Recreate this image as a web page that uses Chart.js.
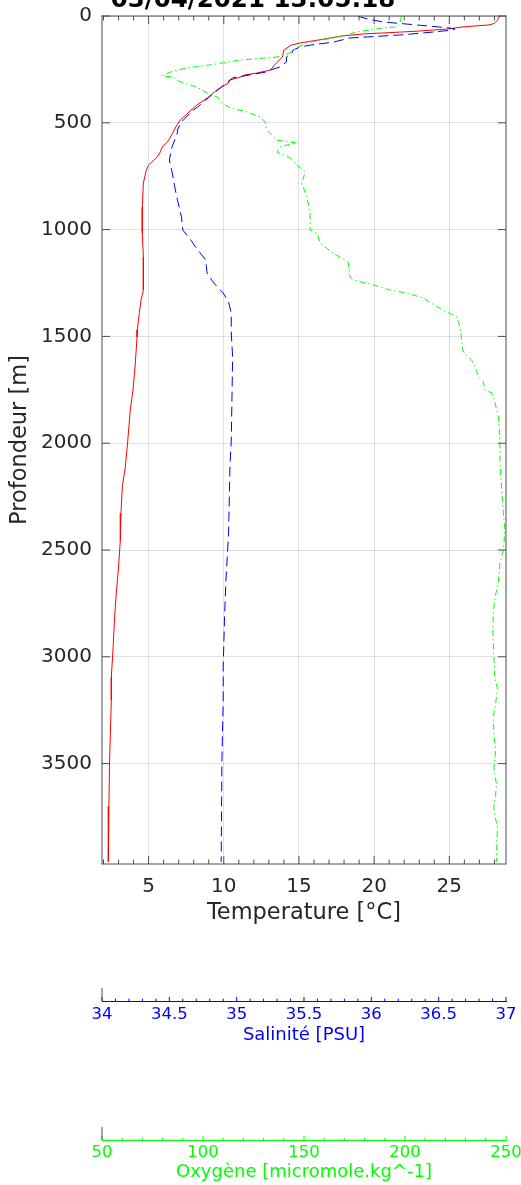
<!DOCTYPE html>
<html>
<head>
<meta charset="utf-8">
<script src="https://cdn.jsdelivr.net/npm/chart.js@4"></script>
<style>
  html, body { margin: 0; padding: 0; background: #fff; }
  canvas { display: block; }
</style>
</head>
<body>
<canvas id="profile" width="521" height="1185"></canvas>
<script>
const chartTitle = '03/04/2021 13:05:18';

// temperature profile (red)
const tempDepth = [0, 20, 35, 42, 51, 61, 70, 75, 84, 94, 110, 126, 136, 159, 192, 220, 253, 267, 276, 286, 300, 314, 346, 384, 417, 449, 487, 520, 548, 590, 613, 636, 660, 698, 721, 782, 894, 1016, 1128, 1283, 1330, 1391, 1470, 1503, 1643, 1751, 1845, 2000, 2111, 2205, 2327, 2453, 2580, 2702, 2814, 2968, 3095, 3202, 3500, 3700, 3960];
const tempValues = [28.35, 28.2, 28.0, 27.6, 25.9, 24.9, 23.1, 21.8, 19.3, 17.8, 16.5, 15.1, 14.5, 14.0, 13.9, 13.5, 13.1, 12.2, 11.4, 11.1, 10.4, 10.3, 9.55, 8.9, 8.2, 7.7, 7.1, 6.8, 6.6, 6.25, 5.9, 5.78, 5.58, 5.0, 4.85, 4.65, 4.58, 4.58, 4.65, 4.65, 4.5, 4.38, 4.25, 4.23, 4.1, 3.96, 3.78, 3.6, 3.45, 3.25, 3.16, 3.12, 3.0, 2.85, 2.74, 2.63, 2.52, 2.52, 2.4, 2.36, 2.32];

// salinity profile (blue)
const salDepth = [0, 5, 15, 28, 42, 56, 61, 66, 75, 89, 98, 103, 122, 136, 145, 159, 173, 192, 215, 239, 253, 262, 290, 346, 393, 426, 449, 464, 496, 534, 548, 613, 674, 730, 800, 861, 941, 1002, 1049, 1086, 1142, 1203, 1250, 1297, 1339, 1391, 1484, 1597, 1985, 2111, 2421, 2533, 2641, 2814, 3048, 3202, 3500, 3960];
const salValues = [35.9, 35.92, 35.98, 36.09, 36.34, 36.58, 36.62, 36.6, 36.46, 36.21, 35.97, 35.84, 35.72, 35.55, 35.47, 35.42, 35.41, 35.37, 35.37, 35.32, 35.25, 35.22, 34.97, 34.86, 34.77, 34.71, 34.66, 34.64, 34.59, 34.56, 34.56, 34.52, 34.5, 34.52, 34.54, 34.56, 34.59, 34.6, 34.66, 34.7, 34.77, 34.78, 34.83, 34.9, 34.94, 34.96, 34.96, 34.97, 34.96, 34.95, 34.94, 34.93, 34.92, 34.91, 34.9, 34.9, 34.89, 34.885];

// oxygen profile (green)
const oxyDepth = [0, 10, 33, 51, 56, 66, 75, 89, 103, 122, 140, 159, 173, 192, 206, 229, 243, 262, 272, 281, 286, 300, 314, 332, 361, 379, 403, 431, 449, 473, 496, 534, 566, 581, 595, 600, 613, 637, 665, 698, 730, 782, 847, 922, 1002, 1016, 1063, 1110, 1152, 1222, 1236, 1259, 1283, 1297, 1320, 1377, 1409, 1456, 1517, 1564, 1587, 1611, 1643, 1690, 1714, 1751, 1765, 1812, 1877, 1971, 2093, 2219, 2327, 2406, 2500, 2561, 2655, 2720, 2795, 2889, 3001, 3100, 3150, 3202, 3280, 3357, 3440, 3516, 3600, 3650, 3700, 3750, 3800, 3850, 3919, 3960];
const oxyValues = [198, 198, 197.6, 195.9, 189, 182.7, 176, 171, 164.5, 153, 148, 145, 143, 136.6, 118.4, 103.6, 92, 84, 81.3, 80, 85.4, 87, 90.4, 97, 102, 107, 109, 113.5, 121.7, 128.3, 130.8, 131.6, 134.9, 136.6, 146.5, 143, 138.2, 136.6, 143.2, 146.5, 150.6, 148.9, 151.4, 153, 153, 156.4, 158, 164.4, 171.8, 172.8, 174.3, 184.2, 192.6, 200.9, 208.9, 218.8, 225.6, 227.2, 228.1, 228.6, 230, 233, 234.8, 236.3, 238.8, 239.6, 243, 244.6, 246.2, 247, 247, 247.9, 248.7, 249.5, 248.7, 247, 246.2, 244.6, 243.7, 243.5, 244, 244.5, 245.8, 245.1, 243.8, 244, 244.9, 244, 245.3, 244.8, 243.9, 244.6, 245.9, 245.5, 245.4, 245.2];

// axis ranges and tick labels
const tempRange = [1.9, 28.77];
const depthRange = [0, 3970];
const salRange = [34, 37];
const oxyRange = [50, 250];
const tempTicks = [5, 10, 15, 20, 25];
const depthTicks = [0, 500, 1000, 1500, 2000, 2500, 3000, 3500];
const salTicks = [34, 34.5, 35, 35.5, 36, 36.5, 37];
const oxyTicks = [50, 100, 150, 200, 250];

const FONT = 'DejaVu Sans';
const AXIS_COLOR = '#262626';
const GRID_COLOR = 'rgba(38,38,38,0.14)';

function toPoints(depths, values) {
  return depths.map((d, i) => ({ x: values[i], y: d }));
}

function fixedTicks(values) {
  return scale => { scale.ticks = values.map(v => ({ value: v })); };
}

const plainLabel = v => String(v);

// frame, inward ticks (MATLAB style) and small axis stubs
const frameTicks = {
  id: 'frameTicks',
  afterDatasetsDraw(chart) {
    const { ctx, chartArea: a, scales } = chart;
    ctx.save();
    ctx.lineWidth = 1;
    ctx.strokeStyle = '#4d4d4d';
    ctx.strokeRect(a.left, a.top, a.right - a.left, a.bottom - a.top);
    ctx.beginPath();
    for (let t = 2; t <= 28; t++) {
      const x = scales.x.getPixelForValue(t);
      const len = t % 5 === 0 ? 8 : 4.5;
      ctx.moveTo(x, a.bottom); ctx.lineTo(x, a.bottom - len);
      ctx.moveTo(x, a.top); ctx.lineTo(x, a.top + len);
    }
    depthTicks.forEach(d => {
      const y = scales.y.getPixelForValue(d);
      ctx.moveTo(a.left, y); ctx.lineTo(a.left + 8, y);
      ctx.moveTo(a.right, y); ctx.lineTo(a.right - 8, y);
    });
    ctx.stroke();

    // salinity / oxygen axis ticks pointing up
    [['sal', 0.1, 5, '#0000ff'], ['oxy', 10, 5, '#00ff00']].forEach(([id, step, every, color]) => {
      const s = scales[id];
      ctx.beginPath();
      ctx.strokeStyle = color;
      const n = Math.round((s.max - s.min) / step);
      for (let i = 0; i <= n; i++) {
        const x = s.getPixelForValue(s.min + i * step);
        const len = i % every === 0 ? 4 : 2.3;
        ctx.moveTo(x, s.top); ctx.lineTo(x, s.top - len);
      }
      ctx.stroke();
      ctx.beginPath();
      ctx.strokeStyle = '#4d4d4d';
      ctx.moveTo(a.left, s.top - 13); ctx.lineTo(a.left, s.top);
      ctx.stroke();
    });
    ctx.restore();
  }
};

function fixHeight(h) {
  return scale => {
    scale.height = h;
    scale.paddingLeft = 0;
    scale.paddingRight = 0;
  };
}

new Chart(document.getElementById('profile'), {
  type: 'scatter',
  data: {
    datasets: [
      {
        label: 'Température',
        data: toPoints(tempDepth, tempValues),
        xAxisID: 'x', yAxisID: 'y',
        showLine: true, borderColor: '#ff0000', borderWidth: 1,
        pointRadius: 0, order: 3
      },
      {
        label: 'Salinité',
        data: toPoints(salDepth, salValues),
        xAxisID: 'sal', yAxisID: 'y',
        showLine: true, borderColor: '#0000ff', borderWidth: 1,
        borderDash: [10, 5], pointRadius: 0, order: 2
      },
      {
        label: 'Oxygène',
        data: toPoints(oxyDepth, oxyValues),
        xAxisID: 'oxy', yAxisID: 'y',
        showLine: true, borderColor: '#00ff00', borderWidth: 1,
        borderDash: [6, 3, 1.5, 3], pointRadius: 0, order: 1
      }
    ]
  },
  options: {
    responsive: false,
    animation: false,
    devicePixelRatio: 1,
    layout: { padding: { top: -14.2, left: 0, right: 15, bottom: 0 } },
    plugins: {
      legend: { display: false },
      tooltip: { enabled: false },
      title: {
        display: true,
        text: chartTitle,
        color: '#000',
        font: { family: FONT, size: 24.5, weight: 'bold' },
        padding: { top: 0, bottom: 0.8 }
      }
    },
    scales: {
      x: {
        type: 'linear', position: 'bottom', weight: 0,
        min: tempRange[0], max: tempRange[1],
        afterBuildTicks: fixedTicks(tempTicks),
        grid: { color: GRID_COLOR, drawTicks: false },
        border: { display: false },
        ticks: { padding: 11, color: AXIS_COLOR, callback: plainLabel, font: { family: FONT, size: 20 } },
        title: { display: true, text: 'Temperature [°C]', color: AXIS_COLOR, font: { family: FONT, size: 22.5 }, padding: { top: 0, bottom: 74 } },
        afterFit: fixHeight(137)
      },
      sal: {
        type: 'linear', axis: 'x', position: 'bottom', weight: 1,
        min: salRange[0], max: salRange[1],
        afterBuildTicks: fixedTicks(salTicks),
        grid: { drawOnChartArea: false, drawTicks: false },
        border: { display: true, color: '#0000ff', width: 1 },
        ticks: { padding: 4, color: '#0000ff', callback: plainLabel, font: { family: FONT, size: 16.5 } },
        title: { display: true, text: 'Salinité [PSU]', color: '#0000ff', font: { family: FONT, size: 18 }, padding: { top: 0, bottom: 94 } },
        afterFit: fixHeight(139)
      },
      oxy: {
        type: 'linear', axis: 'x', position: 'bottom', weight: 2,
        min: oxyRange[0], max: oxyRange[1],
        afterBuildTicks: fixedTicks(oxyTicks),
        grid: { drawOnChartArea: false, drawTicks: false },
        border: { display: true, color: '#00ff00', width: 1 },
        ticks: { padding: 3, color: '#00ff00', callback: plainLabel, font: { family: FONT, size: 16.5 } },
        title: { display: true, text: 'Oxygène [micromole.kg^-1]', color: '#00ff00', font: { family: FONT, size: 18 }, padding: { top: 0, bottom: 1.4 } },
        afterFit: fixHeight(45)
      },
      y: {
        type: 'linear', position: 'left', reverse: true,
        min: depthRange[0], max: depthRange[1],
        afterBuildTicks: fixedTicks(depthTicks),
        grid: { color: GRID_COLOR, drawTicks: false },
        border: { display: false },
        ticks: { padding: 10, color: AXIS_COLOR, callback: plainLabel, font: { family: FONT, size: 20 } },
        title: { display: true, text: 'Profondeur [m]', color: AXIS_COLOR, font: { family: FONT, size: 22.5 }, padding: { top: 7, bottom: 0 } },
        afterFit: scale => {
          scale.width = 102;
          scale.paddingTop = 0;
          scale.paddingBottom = 0;
        }
      }
    }
  },
  plugins: [frameTicks]
});
</script>
</body>
</html>
